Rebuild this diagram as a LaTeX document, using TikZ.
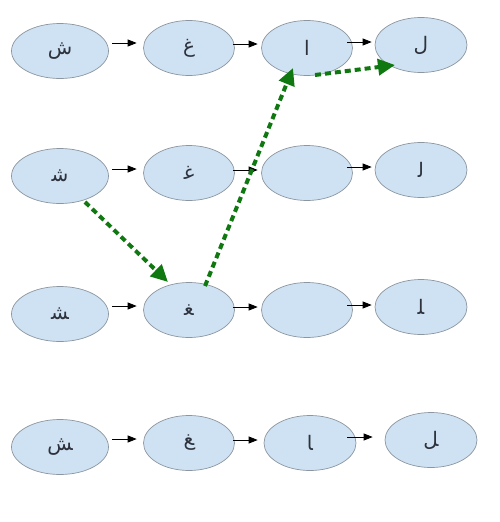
\documentclass[tikz,border=0pt]{standalone}
\usepackage{fontspec}
\usetikzlibrary{shapes.geometric,arrows.meta}
\newfontfamily\arabicfont[Script=Arabic]{DejaVu Sans}
\TeXXeTstate=1
\definecolor{cellfill}{RGB}{207,226,243}
\definecolor{cellline}{RGB}{140,150,160}
\definecolor{pathgreen}{RGB}{16,120,16}
\definecolor{lettercol}{RGB}{45,50,60}
\newcommand{\ar}[1]{{\arabicfont\beginR #1\endR}}
\tikzset{
  cell/.style={ellipse, draw=cellline, line width=0.7pt, fill=cellfill,
    minimum width=91pt, minimum height=55pt, inner sep=0pt,
    text=lettercol, font=\fontsize{20}{24}\selectfont},
  wide/.style={minimum width=97pt},
  arr/.style={line width=0.8pt, -{Triangle[length=9pt,width=7pt]}},
  path/.style={draw=pathgreen, line width=4pt, dash pattern=on 6pt off 4pt,
    -{Triangle[length=17pt,width=16pt,fill=pathgreen]}}
}
\begin{document}
\begin{tikzpicture}[x=1pt,y=-1pt]
\useasboundingbox (0,0) rectangle (500,522);
% row 1
\node[cell,wide] (r1c1) at (60,51)  {\ar{ش}};
\node[cell] (r1c2) at (189,48) {\ar{غ}};
\node[cell] (r1c3) at (307,48) {\ar{ا}};
\node[cell,minimum width=92pt] (r1c4) at (421,45) {\ar{ل}};
% row 2
\node[cell,wide] (r2c1) at (60,176)  {\ar{ش^^^^200d}};
\node[cell] (r2c2) at (189,173) {\ar{غ^^^^200d}};
\node[cell] (r2c3) at (307,173) {};
\node[cell,minimum width=92pt] (r2c4) at (421,170) {\ar{ل^^^^200d}};
% row 3
\node[cell,wide] (r3c1) at (60,314)  {\ar{^^^^200dش^^^^200d}};
\node[cell] (r3c2) at (189,310) {\ar{^^^^200dغ^^^^200d}};
\node[cell] (r3c3) at (307,310) {};
\node[cell,minimum width=92pt] (r3c4) at (421,307) {\ar{^^^^200dل^^^^200d}};
% row 4
\node[cell,wide] (r4c1) at (60,447)  {\ar{^^^^200dش}};
\node[cell] (r4c2) at (189,443) {\ar{^^^^200dغ}};
\node[cell,minimum width=92pt] (r4c3) at (310,443) {\ar{^^^^200dا}};
\node[cell,minimum width=92pt] (r4c4) at (431,440) {\ar{^^^^200dل}};
% black arrows
\draw[arr] ([shift={(3.5,-8)}]r1c1.east) -- ([shift={(-6.5,-5)}]r1c2.west);
\draw[arr] ([shift={(-1.5,-4)}]r1c2.east) -- ([shift={(-3.5,-4)}]r1c3.west);
\draw[arr] ([shift={(-5.5,-6)}]r1c3.east) -- ([shift={(-3,-3)}]r1c4.west);
\draw[arr] ([shift={(3.5,-7)}]r2c1.east) -- ([shift={(-6.5,-4)}]r2c2.west);
\draw[arr] ([shift={(-1.5,-3)}]r2c2.east) -- ([shift={(-3.5,-3)}]r2c3.west);
\draw[arr] ([shift={(-5.5,-6)}]r2c3.east) -- ([shift={(-3,-3)}]r2c4.west);
\draw[arr] ([shift={(3.5,-8)}]r3c1.east) -- ([shift={(-6.5,-4)}]r3c2.west);
\draw[arr] ([shift={(-1.5,-3)}]r3c2.east) -- ([shift={(-3.5,-3)}]r3c3.west);
\draw[arr] ([shift={(-5.5,-5)}]r3c3.east) -- ([shift={(-3,-2)}]r3c4.west);
\draw[arr] ([shift={(3.5,-8)}]r4c1.east) -- ([shift={(-6.5,-4)}]r4c2.west);
\draw[arr] ([shift={(-1.5,-3)}]r4c2.east) -- ([shift={(-6,-3)}]r4c3.west);
\draw[arr] ([shift={(-9,-6)}]r4c3.east) -- ([shift={(-12,-3)}]r4c4.west);
% green path
\draw[path] ([shift={(25,26)}]r2c1.center) -- ([shift={(-21,-28)}]r3c2.center);
\draw[path] ([shift={(16,-24)}]r3c2.center) -- ([shift={(-14,20)}]r1c3.center);
\draw[path] ([shift={(8,27)}]r1c3.center) -- ([shift={(-26,20)}]r1c4.center);
\end{tikzpicture}
\end{document}
